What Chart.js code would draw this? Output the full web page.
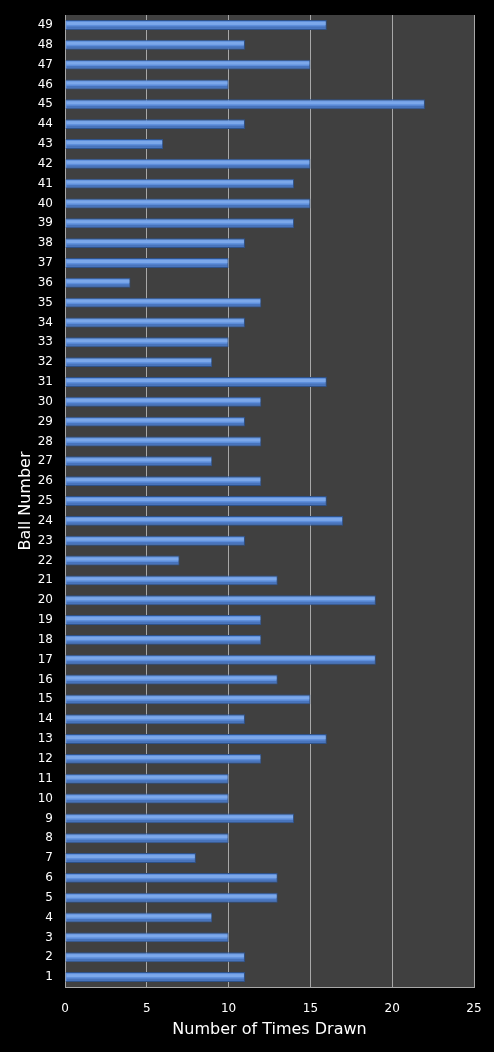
<!DOCTYPE html>
<html>
<head>
<meta charset="utf-8">
<script src="https://cdn.jsdelivr.net/npm/chart.js@4"></script>
<style>
  html, body { margin: 0; padding: 0; background: #000; }
  #wrap { width: 494px; height: 1052px; }
</style>
</head>
<body>
<div id="wrap"><canvas id="ballChart"></canvas></div>
<script>
// Ball frequency data (1..49)
const ballNumbers = Array.from({ length: 49 }, (_, i) => String(i + 1));
const timesDrawn = [
    11, 11, 10, 9, 13, 13, 8, 10, 14, 10,
    10, 12, 16, 11, 15, 13, 19, 12, 12, 19,
    13, 7, 11, 17, 16, 12, 9, 12, 11, 12,
    16, 9, 10, 11, 12, 4, 10, 11, 14, 15,
    14, 15, 6, 11, 22, 10, 15, 11, 16
];
const xTicks = [0, 5, 10, 15, 20, 25];

Chart.defaults.font.family = "'DejaVu Sans', Verdana, sans-serif";
Chart.defaults.color = '#ffffff';

// Dark grey plot background
const plotBackground = {
    id: 'plotBackground',
    beforeDraw(chart) {
        const { ctx, chartArea: a } = chart;
        ctx.save();
        ctx.fillStyle = '#404040';
        ctx.fillRect(a.left, a.top, a.right - a.left, a.bottom - a.top);
        ctx.restore();
    }
};

// Bar shading: light band near the top of each bar, darker lower edge
const barShine = {
    id: 'barShine',
    afterDatasetsDraw(chart) {
        const ctx = chart.ctx;
        chart.getDatasetMeta(0).data.forEach(bar => {
            const h = bar.height;
            const x0 = Math.min(bar.base, bar.x) + 1;
            const w = Math.abs(bar.x - bar.base) - 2;
            const top = bar.y - h / 2 + 1;
            ctx.save();
            ctx.fillStyle = 'rgba(150, 190, 245, 0.55)';
            ctx.fillRect(x0, top + 1, w, h * 0.3);
            ctx.fillStyle = 'rgba(40, 75, 140, 0.4)';
            ctx.fillRect(x0, bar.y + h / 2 - 1 - h * 0.25, w, h * 0.25);
            ctx.restore();
        });
    }
};

new Chart(document.getElementById('ballChart'), {
    type: 'bar',
    data: {
        labels: ballNumbers,
        datasets: [{
            label: 'Times Drawn',
            data: timesDrawn,
            backgroundColor: '#5e8fdc',
            borderColor: '#2f5288',
            borderWidth: 1,
            categoryPercentage: 1,
            barPercentage: 0.5
        }]
    },
    options: {
        indexAxis: 'y',
        responsive: true,
        maintainAspectRatio: false,
        animation: false,
        layout: { padding: { top: 15, right: 20, left: 0, bottom: 0 } },
        plugins: {
            legend: { display: false },
            tooltip: { enabled: false }
        },
        scales: {
            x: {
                min: 0,
                max: 25,
                afterBuildTicks: (scale) => { scale.ticks = xTicks.map(v => ({ value: v })); },
                ticks: { color: '#ffffff', font: { size: 12 }, padding: 15, maxRotation: 0 },
                grid: { color: '#a8a8a8', lineWidth: 1, drawTicks: false },
                border: { color: '#a8a8a8' },
                title: {
                    display: true,
                    text: 'Number of Times Drawn',
                    color: '#ffffff',
                    font: { size: 16 },
                    padding: { top: 4, bottom: 13 }
                },
                afterFit: (scale) => {
                    scale.height = 65;
                    scale.paddingLeft = 0;
                    scale.paddingRight = 0;
                }
            },
            y: {
                reverse: true,
                ticks: { color: '#ffffff', font: { size: 12 }, padding: 12, autoSkip: false },
                grid: { display: false, drawTicks: false },
                border: { color: '#a8a8a8' },
                title: {
                    display: true,
                    text: 'Ball Number',
                    color: '#ffffff',
                    font: { size: 16 },
                    padding: { top: 16, bottom: 2 }
                },
                afterFit: (scale) => {
                    scale.width = 65;
                    scale.paddingTop = 0;
                    scale.paddingBottom = 0;
                }
            }
        }
    },
    plugins: [plotBackground, barShine]
});
</script>
</body>
</html>
